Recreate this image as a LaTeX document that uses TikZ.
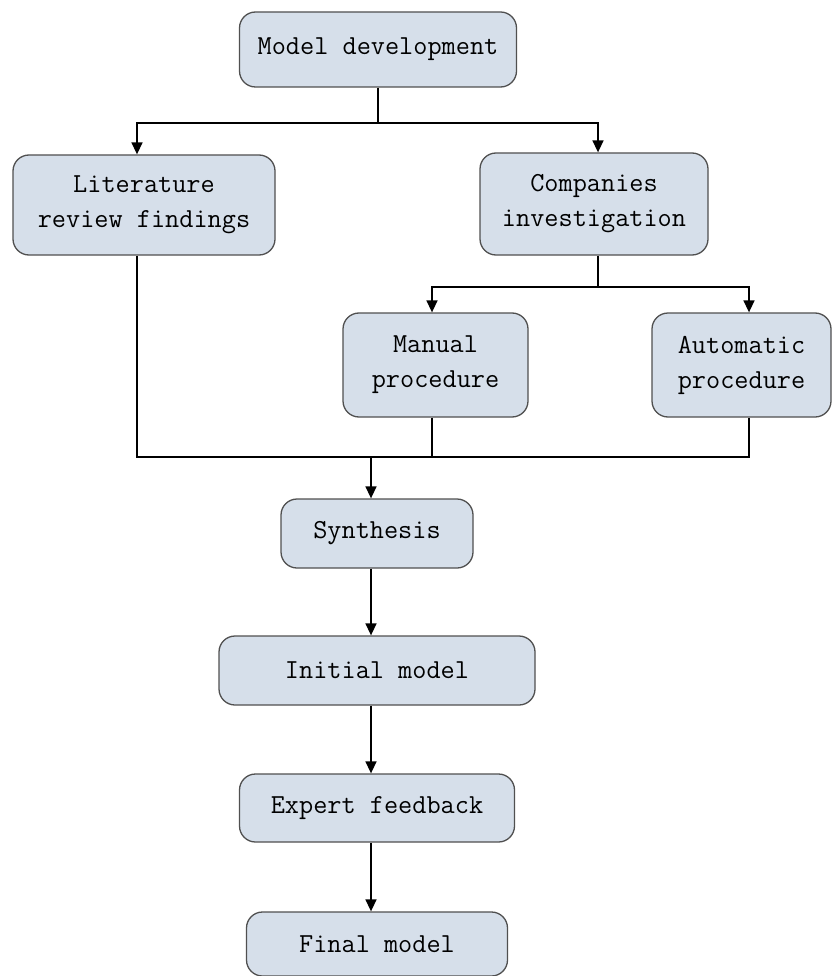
\documentclass[tikz,border=0pt]{standalone}
\usepackage{fontspec}
\usetikzlibrary{arrows.meta}
\definecolor{boxfill}{HTML}{D6DFEA}
\definecolor{boxline}{HTML}{505050}
\tikzset{
  stepbox/.style={draw=boxline, line width=1.3pt, fill=boxfill, rounded corners=16pt,
    inner sep=0pt, align=center, font=\ttfamily\fontsize{27.5}{35}\selectfont},
  link/.style={line width=1.5pt},
  flow/.style={link, -{Triangle[length=12pt,width=11pt]}}
}
\begin{document}
\begin{tikzpicture}[x=1pt,y=-1pt]
	\useasboundingbox (0,0) rectangle (834,976);

	% the steps, placed at their pixel positions
	\node[stepbox, minimum width=277pt, minimum height=75pt]  (model)   at (378,49.5)   {Model development};
	\node[stepbox, minimum width=262pt, minimum height=100pt] (lit)     at (144,205)    {Literature\\review findings};
	\node[stepbox, minimum width=228pt, minimum height=102pt] (comp)    at (594,204)    {Companies\\investigation};
	\node[stepbox, minimum width=185pt, minimum height=104pt] (manual)  at (435.5,365)  {Manual\\procedure};
	\node[stepbox, minimum width=179pt, minimum height=104pt] (auto)    at (741.5,365)  {Automatic\\procedure};
	\node[stepbox, minimum width=192pt, minimum height=69pt]  (synth)   at (377,533.5)  {Synthesis};
	\node[stepbox, minimum width=316pt, minimum height=69pt]  (initial) at (377,670.5)  {Initial model};
	\node[stepbox, minimum width=275pt, minimum height=68pt]  (expert)  at (377,808)    {Expert feedback};
	\node[stepbox, minimum width=261pt, minimum height=64pt]  (final)   at (377,944)    {Final model};

	% branch points
	\coordinate (split) at (378,123);
	\coordinate (split2) at (598,287);
	\coordinate (join) at (371,457);

	% model development -> literature / companies
	\draw[link] (model.south) -- (split);
	\draw[flow] (split) -| ([xshift=-7pt]lit.north);
	\draw[flow] (split) -| ([xshift=4pt]comp.north);

	% companies -> manual / automatic
	\draw[link] ([xshift=4pt]comp.south) -- (split2);
	\draw[flow] (split2) -| ([xshift=-3.5pt]manual.north);
	\draw[flow] (split2) -| ([xshift=7.5pt]auto.north);

	% everything meets in the synthesis
	\draw[link] ([xshift=-7pt]lit.south) |- (join);
	\draw[link] ([xshift=-3.5pt]manual.south) |- (join);
	\draw[link] ([xshift=7.5pt]auto.south) |- (join);
	\draw[flow] (join) -- ([xshift=-6pt]synth.north);

	% main chain
	\draw[flow] ([xshift=-6pt]synth.south) -- ([xshift=-6pt]initial.north);
	\draw[flow] ([xshift=-6pt]initial.south) -- ([xshift=-6pt]expert.north);
	\draw[flow] ([xshift=-6pt]expert.south) -- ([xshift=-6pt]final.north);
\end{tikzpicture}
\end{document}
